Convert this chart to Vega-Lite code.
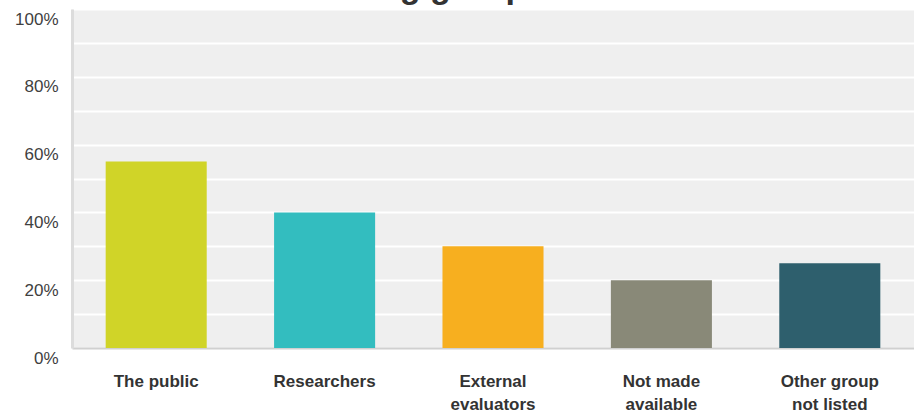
{
  "$schema": "https://vega.github.io/schema/vega-lite/v6.json",
  "width": 842,
  "height": 339,
  "autosize": {"type": "none"},
  "padding": {"left": 72, "top": 9, "right": 0, "bottom": 66},
  "background": "#ffffff",
  "title": {
    "text": "Sharing groups",
    "anchor": "start",
    "frame": "group",
    "dx": 222,
    "offset": 4,
    "font": "Liberation Sans",
    "fontSize": 34,
    "fontWeight": "bold",
    "color": "#333333"
  },
  "data": {
    "values": [
      {"group": "The public", "share": 0.55},
      {"group": "Researchers", "share": 0.40},
      {"group": "External evaluators", "share": 0.30},
      {"group": "Not made available", "share": 0.20},
      {"group": "Other group not listed", "share": 0.25}
    ]
  },
  "mark": {"type": "bar"},
  "encoding": {
    "x": {
      "field": "group",
      "type": "nominal",
      "sort": null,
      "scale": {"paddingInner": 0.4, "paddingOuter": 0.2},
      "axis": {
        "title": null,
        "labelAngle": 0,
        "ticks": false,
        "domainColor": "#d0d0d0",
        "domainWidth": 2,
        "labelFont": "Liberation Sans",
        "labelFontSize": 17,
        "labelFontWeight": "bold",
        "labelColor": "#333333",
        "labelBaseline": "top",
        "labelPadding": 25,
        "labelLineHeight": 23,
        "labelExpr": "datum.label == 'External evaluators' ? ['External', 'evaluators'] : datum.label == 'Not made available' ? ['Not made', 'available'] : datum.label == 'Other group not listed' ? ['Other group', 'not listed'] : datum.label"
      }
    },
    "y": {
      "field": "share",
      "type": "quantitative",
      "scale": {"domain": [0, 1], "nice": false},
      "axis": {
        "title": null,
        "values": [0, 0.1, 0.2, 0.3, 0.4, 0.5, 0.6, 0.7, 0.8, 0.9, 1],
        "format": ".0%",
        "labelExpr": "round(datum.value * 100) % 20 == 0 ? datum.label : ''",
        "ticks": false,
        "grid": true,
        "gridColor": "#ffffff",
        "gridWidth": 2,
        "domainColor": "#dcdcdc",
        "domainWidth": 3,
        "labelFont": "Liberation Sans",
        "labelFontSize": 17,
        "labelColor": "#404040",
        "labelPadding": 14,
        "labelOffset": 10
      }
    },
    "color": {
      "field": "group",
      "type": "nominal",
      "sort": null,
      "legend": null,
      "scale": {
        "domain": ["The public", "Researchers", "External evaluators", "Not made available", "Other group not listed"],
        "range": ["#d0d428", "#33bdbf", "#f7af1f", "#898978", "#2e5f6d"]
      }
    }
  },
  "config": {
    "view": {"fill": "#efefef", "stroke": null}
  }
}
